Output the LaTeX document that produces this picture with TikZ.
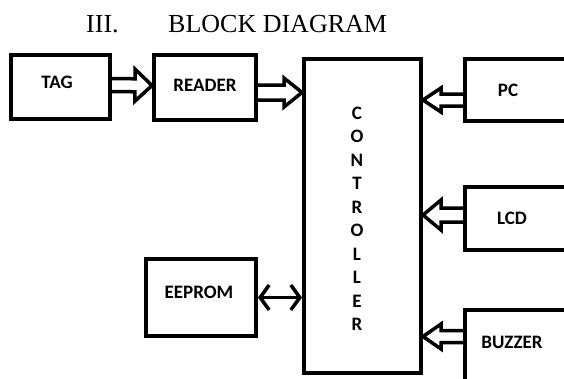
\documentclass[tikz,border=0pt]{standalone}
\usepackage{fontspec}
\setmainfont{Liberation Serif}
\newfontfamily\lblfont{Carlito}
\usetikzlibrary{positioning, arrows.meta, calc}

% hollow block arrow: start, tip, shaft half width, head half width, head length
\newcommand{\hollowarrow}[5]{%
  \coordinate (ha) at #1;
  \coordinate (hb) at #2;
  \coordinate (hc) at ($(hb)!#5!(ha)$);
  \draw[hollow] ($(ha)!#3!90:(hb)$) -- ($(hc)!#3!90:(hb)$) -- ($(hc)!#4!90:(hb)$) -- (hb)
    -- ($(hc)!#4!-90:(hb)$) -- ($(hc)!#3!-90:(hb)$) -- ($(ha)!#3!-90:(hb)$);
}

\begin{document}
\begin{tikzpicture}[
    x=1pt, y=-1pt,
    blk/.style={
      rectangle, draw=black, line width=4pt, inner sep=0pt,
    },
    lbl/.style={font=\lblfont\bfseries\fontsize{19}{23.5}\selectfont, inner sep=0pt},
    hollow/.style={draw=black, line width=3.5pt, line join=miter},
    biarrow/.style={{Straight Barb[length=9pt,width=25pt]}-{Straight Barb[length=9pt,width=25pt]},
      line width=3.5pt},
    heading/.style={font=\fontsize{26}{30}\selectfont, inner sep=0pt, anchor=base west},
]
\useasboundingbox (0,0) rectangle (564,378);

% Title
\node[heading] (secno) at (86,32) {III.};
\node[heading] (title) at (168,32) {BLOCK DIAGRAM};

% Blocks
\node[blk, minimum width=99pt, minimum height=64pt] (tag) at (60.5,87) {};
\node[blk, minimum width=102pt, minimum height=65pt] (reader) at (205,87.5) {};
\node[blk, minimum width=117pt, minimum height=314pt] (ctrl) at (362.5,216) {};
\node[blk, minimum width=110pt, minimum height=77pt] (eeprom) at (201,297.5) {};
\node[blk, minimum width=200pt, minimum height=62pt] (pc) at (565,90) {};
\node[blk, minimum width=200pt, minimum height=63pt] (lcd) at (565,218.5) {};
\node[blk, minimum width=200pt, minimum height=200pt] (buzzer) at (565,410) {};

% Block texts
\node[lbl] (tagtxt) at (57,82) {TAG};
\node[lbl] (readertxt) at (205,85) {READER};
\node[lbl, align=center] (ctrltxt) at (357,219) {C\\O\\N\\T\\R\\O\\L\\L\\E\\R};
\node[lbl] (eepromtxt) at (199,292) {EEPROM};
\node[lbl] (pctxt) at (508,90) {PC};
\node[lbl] (lcdtxt) at (512,218) {LCD};
\node[lbl] (buzzertxt) at (512,342) {BUZZER};

% Data paths
\hollowarrow{($(tag.east)+(0,-2)$)}{($(reader.west)+(0,-2)$)}{6.5pt}{16pt}{17pt}
\hollowarrow{($(reader.east)+(0,5)$)}{($(reader.east -| ctrl.west)+(0,5)$)}{7.5pt}{14.5pt}{18pt}
\hollowarrow{($(pc.west)+(0,10)$)}{($(pc.west -| ctrl.east)+(0,10)$)}{6pt}{12pt}{18pt}
\hollowarrow{($(lcd.west)+(0,-3.5)$)}{($(lcd.west -| ctrl.east)+(0,-3.5)$)}{7pt}{15pt}{18pt}
\hollowarrow{($(buzzer.north west)+(0,28.5)$)}{($(buzzer.north west -| ctrl.east)+(0,28.5)$)}{6pt}{12.5pt}{18pt}
\draw[biarrow] (eeprom.east) -- (eeprom.east -| ctrl.west);
\end{tikzpicture}
\end{document}
